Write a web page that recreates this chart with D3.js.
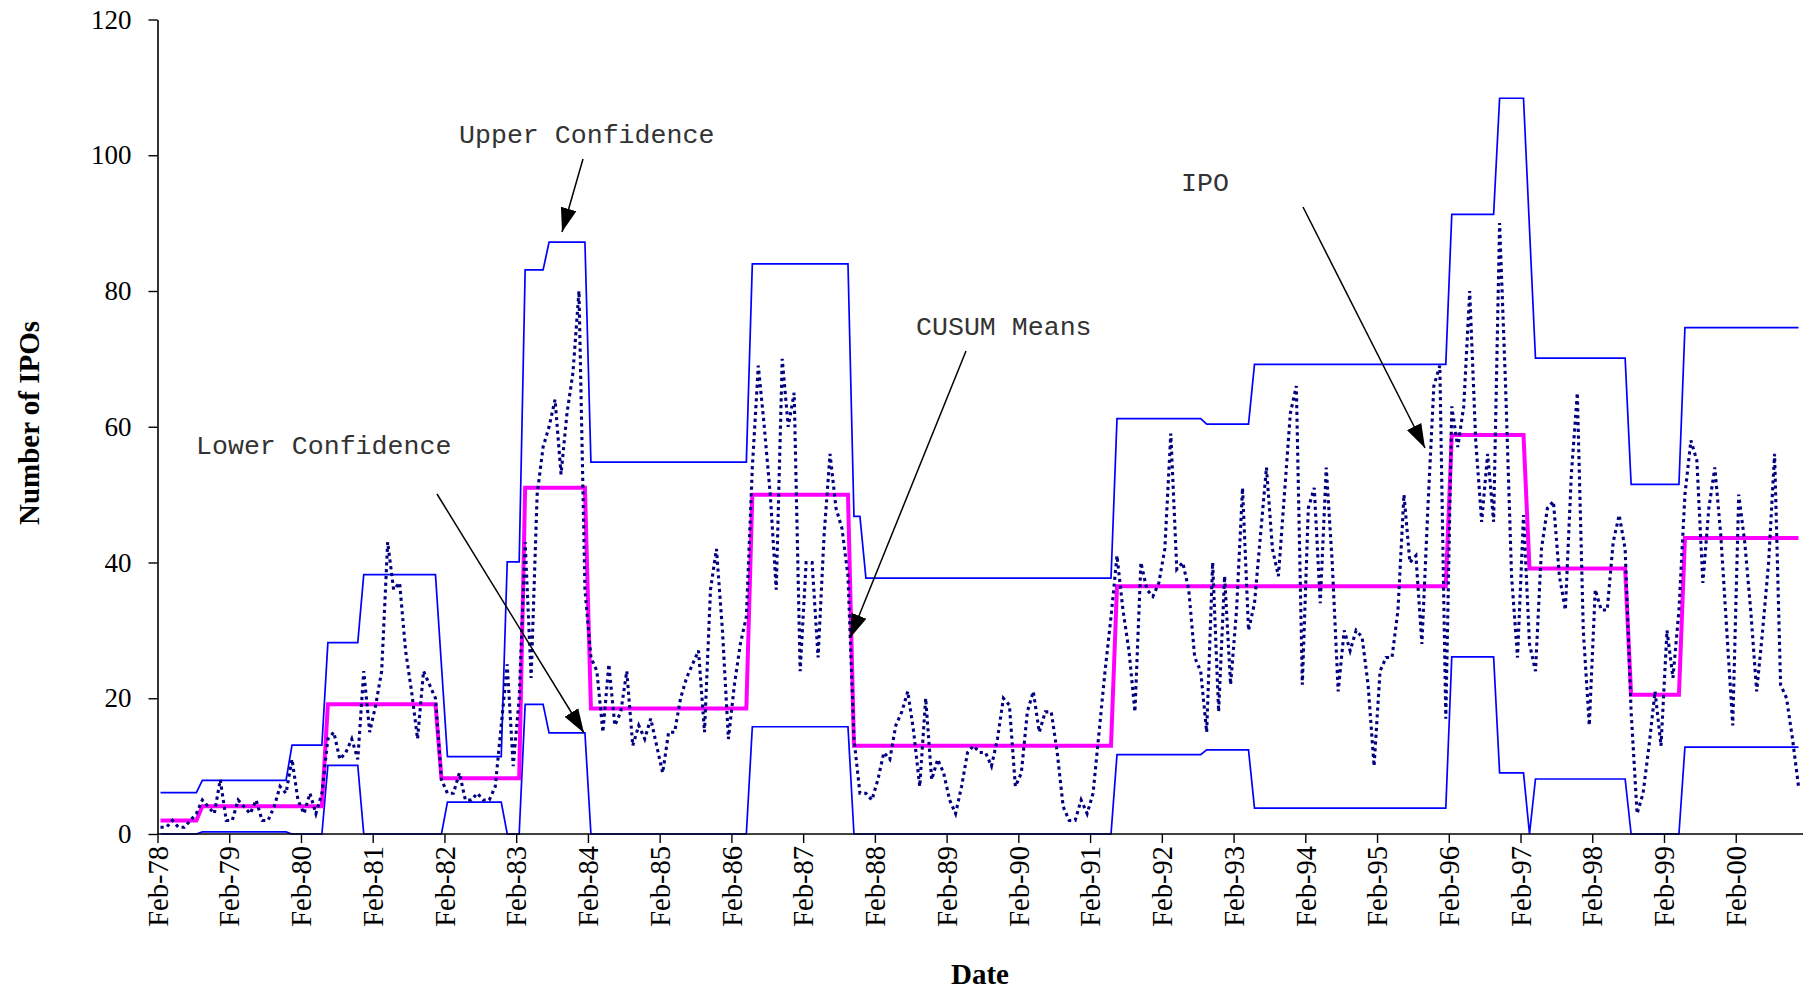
<!DOCTYPE html>
<html><head><meta charset="utf-8">
<script src="https://cdn.jsdelivr.net/npm/d3@7"></script>
<style>body{margin:0;background:#fff} svg{display:block}</style>
</head><body>
<svg id="chart" width="1803" height="994"></svg>
<script>
// Monthly IPO counts, Feb-78 .. Dec-00
const ipo = [
  1, 1, 2, 1, 1, 2, 3, 5, 4, 3, 8, 2,
  2, 5, 4, 3, 5, 2, 2, 4, 7, 6, 11, 5,
  3, 6, 3, 6, 14, 15, 11, 12, 14, 11, 24, 15,
  19, 24, 43, 36, 37, 27, 21, 14, 24, 22, 20, 8,
  6, 6, 9, 5, 5, 6, 5, 5, 7, 16, 25, 10,
  20, 43, 23, 50, 57, 60, 64, 53, 62, 68, 80, 36,
  26, 24, 15, 25, 16, 18, 24, 13, 16, 14, 17, 13,
  9, 15, 15, 20, 23, 25, 27, 15, 36, 42, 30, 14,
  22, 28, 32, 54, 69, 60, 50, 36, 70, 60, 65, 24,
  40, 40, 26, 44, 56, 48, 45, 38, 14, 6, 6, 5,
  8, 12, 11, 16, 18, 21, 15, 7, 20, 8, 11, 9,
  5, 3, 7, 12, 13, 12, 12, 10, 14, 20, 19, 7,
  9, 18, 21, 15, 18, 18, 12, 4, 2, 2, 5, 3,
  6, 15, 24, 32, 41, 33, 27, 18, 40, 36, 35, 37,
  42, 59, 39, 40, 36, 26, 24, 15, 40, 18, 38, 22,
  33, 51, 30, 34, 44, 54, 42, 38, 50, 62, 66, 22,
  48, 51, 34, 54, 40, 21, 30, 27, 30, 29, 22, 10,
  24, 26, 26, 33, 50, 40, 41, 28, 48, 66, 69, 17,
  63, 57, 63, 80, 58, 46, 56, 46, 90, 66, 38, 26,
  47, 28, 24, 42, 48, 49, 38, 33, 53, 65, 30, 16,
  36, 33, 33, 43, 47, 42, 18, 3, 6, 13, 21, 13,
  30, 23, 33, 50, 58, 55, 37, 48, 54, 44, 30, 16,
  50, 43, 33, 21, 30, 40, 56, 22, 20, 14, 7
];

// CUSUM regime means: month each level starts, and level
const cusumStart = ["Feb-78","Sep-78","Jun-80","Jan-82","Mar-83","Feb-84","May-86","Oct-87","Jun-91","Feb-96","Mar-97","Aug-98","May-99"];
const cusumLevel = [2, 4.1, 19.1, 8.2, 51, 18.5, 50, 13, 36.5, 58.8, 39.1, 20.5, 43.6];

// Upper confidence band
const upperStart = ["Feb-78","Sep-78","Dec-79","Jun-80","Dec-80","Jan-82","Feb-82","Dec-82","Mar-83","Jul-83","Feb-84","May-86","Oct-87","Dec-87","Jun-91","Sep-92","May-93","Feb-96","Oct-96","Mar-97","Apr-97","Aug-98","May-99"];
const upperLevel = [6.1, 7.9, 13.1, 28.2, 38.2, 24.8, 11.4, 40.1, 83.1, 87.2, 54.8, 84.0, 46.8, 37.7, 61.2, 60.4, 69.2, 91.3, 108.4, 89.2, 70.1, 51.5, 74.6];

// Lower confidence band
const lowerStart = ["Feb-78","Sep-78","Dec-79","Jun-80","Dec-80","Feb-82","Dec-82","Mar-83","Jul-83","Feb-84","May-86","Oct-87","Jun-91","Sep-92","May-93","Feb-96","Oct-96","Mar-97","Apr-97","Aug-98","May-99"];
const lowerLevel = [0, 0.3, 0, 10.1, 0, 4.7, 0, 19.1, 14.9, 0, 15.8, 0, 11.7, 12.4, 3.8, 26.1, 9.0, 0, 8.1, 0, 12.8];

const tickLabels = ["Feb-78","Feb-79","Feb-80","Feb-81","Feb-82","Feb-83","Feb-84","Feb-85","Feb-86","Feb-87","Feb-88","Feb-89","Feb-90","Feb-91","Feb-92","Feb-93","Feb-94","Feb-95","Feb-96","Feb-97","Feb-98","Feb-99","Feb-00"];
const yTicks = [0, 20, 40, 60, 80, 100, 120];

const annotations = [
  {text: "Upper Confidence", tx: 459, ty: 143, x1: 583, y1: 159, x2: 562, y2: 232},
  {text: "Lower Confidence", tx: 196, ty: 454, x1: 437, y1: 494, x2: 584, y2: 733},
  {text: "CUSUM Means",      tx: 916, ty: 335, x1: 966, y1: 351, x2: 850, y2: 638},
  {text: "IPO",              tx: 1181, ty: 191, x1: 1303, y1: 207, x2: 1425, y2: 448}
];

// ---- build ----
const months = d3.timeMonth.range(new Date(1978, 1, 1), new Date(2001, 0, 1));
const fmt = d3.timeFormat("%b-%y");
const monthLabels = months.map(fmt);

function expand(starts, levels) {
  const idx = starts.map(s => monthLabels.indexOf(s));
  return monthLabels.map((_, i) => {
    let k = 0;
    for (let j = 0; j < idx.length; j++) if (idx[j] <= i) k = j;
    return levels[k];
  });
}
const cusum = expand(cusumStart, cusumLevel);
const upper = expand(upperStart, upperLevel);
const lower = expand(lowerStart, lowerLevel);

const svg = d3.select("#chart");
const plotL = 157.5, plotR = 1801.5, plotT = 19.5, plotB = 834;

const x = d3.scaleBand().domain(monthLabels).range([plotL, plotR]).padding(0);
const xPos = (i) => x(monthLabels[i]) + x.bandwidth() / 2;
const y = d3.scaleLinear().domain([0, 120]).range([plotB, plotT]);

const line = d3.line().x((d, i) => xPos(i)).y(d => y(d));

svg.append("path").datum(upper).attr("d", line)
  .attr("fill", "none").attr("stroke", "#0000ff").attr("stroke-width", 1.7);
svg.append("path").datum(lower).attr("d", line)
  .attr("fill", "none").attr("stroke", "#0000ff").attr("stroke-width", 1.7);
svg.append("path").datum(cusum).attr("d", line)
  .attr("fill", "none").attr("stroke", "#ff00ff").attr("stroke-width", 4)
  .attr("stroke-linejoin", "miter");
svg.append("path").datum(ipo).attr("d", line)
  .attr("fill", "none").attr("stroke", "#000080").attr("stroke-width", 3.1)
  .attr("stroke-dasharray", "3.2,3.6");

// axes
const xLin = d3.scaleLinear().domain([0, monthLabels.length]).range([plotL, plotR]);
const xAxis = d3.axisBottom(xLin)
  .tickValues(tickLabels.map(l => monthLabels.indexOf(l)))
  .tickFormat((d, i) => tickLabels[i])
  .tickSize(9).tickSizeOuter(0);
const gx = svg.append("g").attr("transform", `translate(0,${plotB})`).call(xAxis);
gx.select(".domain").attr("d", `M${plotL},0H1803`).attr("stroke", "#000").attr("stroke-width", 1.6);
gx.selectAll(".tick line").attr("stroke", "#000").attr("stroke-width", 1.4);
gx.selectAll(".tick text")
  .attr("transform", "rotate(-90)")
  .attr("x", -12).attr("y", 0).attr("dy", "0.34em")
  .style("text-anchor", "end")
  .style("font-family", "'Liberation Serif', 'Times New Roman', serif")
  .style("font-size", "28.5px").attr("fill", "#000");

const yAxis = d3.axisLeft(y).tickValues(yTicks).tickSize(9).tickSizeOuter(0).tickPadding(17);
const gy = svg.append("g").attr("transform", `translate(${plotL},0)`).call(yAxis);
gy.select(".domain").attr("stroke", "#000").attr("stroke-width", 1.6);
gy.selectAll(".tick line").attr("stroke", "#000").attr("stroke-width", 1.4);
gy.selectAll(".tick text")
  .style("font-family", "'Liberation Serif', 'Times New Roman', serif")
  .style("font-size", "27px").attr("fill", "#000");

// axis titles
svg.append("text").text("Number of IPOs")
  .attr("transform", "translate(29,423) rotate(-90)")
  .attr("text-anchor", "middle").attr("dominant-baseline", "central")
  .style("font-family", "'Liberation Serif', 'Times New Roman', serif")
  .style("font-weight", "bold").style("font-size", "29px");
svg.append("text").text("Date")
  .attr("x", 980).attr("y", 974)
  .attr("text-anchor", "middle").attr("dominant-baseline", "central")
  .style("font-family", "'Liberation Serif', 'Times New Roman', serif")
  .style("font-weight", "bold").style("font-size", "29px");

// annotations with arrows
svg.append("defs").append("marker")
  .attr("id", "arrow").attr("markerUnits", "userSpaceOnUse")
  .attr("viewBox", "0 -9 24 18").attr("refX", 24).attr("refY", 0)
  .attr("markerWidth", 24).attr("markerHeight", 18).attr("orient", "auto")
  .append("path").attr("d", "M0,-8L24,0L0,8Z").attr("fill", "#000");

const ann = svg.append("g");
ann.selectAll("line").data(annotations).join("line")
  .attr("x1", d => d.x1).attr("y1", d => d.y1)
  .attr("x2", d => d.x2).attr("y2", d => d.y2)
  .attr("stroke", "#000").attr("stroke-width", 1.5)
  .attr("marker-end", "url(#arrow)");
ann.selectAll("text").data(annotations).join("text")
  .attr("x", d => d.tx).attr("y", d => d.ty).text(d => d.text)
  .style("font-family", "'Liberation Mono', 'Courier New', monospace")
  .style("font-size", "26.6px").attr("fill", "#333");
</script>
</body></html>
